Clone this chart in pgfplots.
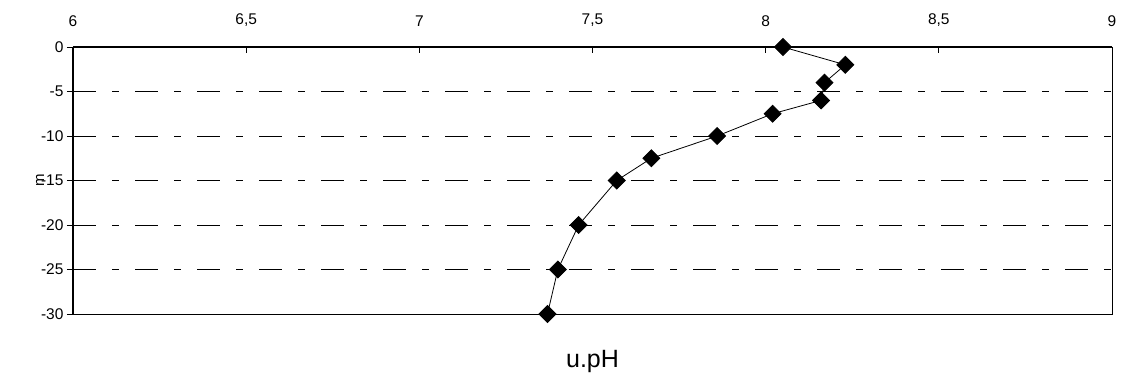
\documentclass[border=0pt]{standalone}
\usepackage{pgfplots}
\pgfplotsset{compat=1.18}
\usepackage{fontspec}
\setmainfont{Liberation Sans}
\begin{document}
\begin{tikzpicture}
\begin{axis}[
  at={(0,0)}, anchor=south west,
  scale only axis, width=1039pt, height=267pt,
  xmin=6, xmax=9, ymin=-30, ymax=0,
  axis x line*=top,
  axis y line*=left,
  xtick={6,6.5,7,7.5,8,8.5,9},
  xticklabels={6,{6,5},7,{7,5},8,{8,5},9},
  ytick={0,-5,-10,-15,-20,-25,-30},
  yticklabels={0,-5,-10,-15,-20,-25,-30},
  x tick label style={font=\fontsize{15.5}{18}\selectfont, yshift=17pt},
  y tick label style={font=\fontsize{15.5}{18}\selectfont},
  xtick align=inside, ytick align=outside,
  major tick length=6pt,
  tick style={black, line width=0.8pt},
  axis line style={black, line width=1.2pt},
  clip=false,
]
\foreach \yy in {-5,-10,-15,-20,-25} {
  \edef\tmp{\noexpand\draw[black, line width=0.8pt, dash pattern=on 23pt off 16pt on 7pt off 16pt] (axis cs:6,\yy) -- (axis cs:9,\yy);}
  \tmp
}
\draw[black, line width=0.8pt] (axis cs:9,0) -- (axis cs:9,-30) -- (axis cs:6,-30);
\addplot[black, line width=0.8pt, mark=square*, mark size=6pt, mark options={rotate=45, fill=black}] coordinates {
(8.05,0) (8.23,-2) (8.17,-4) (8.16,-6) (8.02,-7.5) (7.86,-10) (7.67,-12.5) (7.57,-15) (7.46,-20) (7.40,-25) (7.37,-30)
};
\end{axis}
\node[font=\fontsize{15}{18}\selectfont, rotate=90] at (-33pt,133.5pt) {m};
\node[font=\fontsize{25}{30}\selectfont, anchor=base] at (519.5pt,-53pt) {u.pH};
\useasboundingbox (-73pt,-64pt) rectangle (1049pt,314pt);
\end{tikzpicture}
\end{document}
